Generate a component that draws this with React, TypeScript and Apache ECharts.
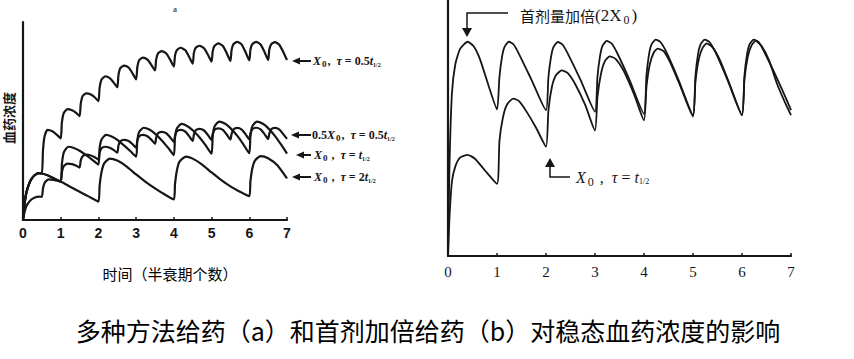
import React, { useEffect, useRef } from "react";
import * as echarts from "echarts";

// ---------- Panel (a): several dosing regimens ----------
// x = time in half-lives, y = plasma concentration (arbitrary units, 0-100)
const aX0Tau05: number[][] = [
  [0, 0], [0.03, 6], [0.07, 12], [0.12, 16], [0.2, 20], [0.3, 22.5], [0.42, 23.7], [0.5, 23.5],
  [0.53, 35], [0.57, 42], [0.65, 45.5], [0.78, 44.8], [0.9, 43], [1.0, 41.2],
  [1.03, 49], [1.08, 54], [1.18, 56], [1.3, 55.4], [1.4, 54.2], [1.5, 52.5],
  [1.53, 58.5], [1.58, 62.5], [1.68, 64], [1.8, 63.4], [1.9, 62], [2.0, 60],
  [2.03, 66.5], [2.08, 70.8], [2.18, 72.5], [2.3, 71.7], [2.4, 69.5], [2.5, 67],
  [2.53, 73], [2.58, 76.7], [2.68, 78], [2.8, 77], [2.9, 74.2], [3.0, 71],
  [3.03, 77], [3.08, 80.7], [3.18, 82], [3.3, 81], [3.4, 78.4], [3.5, 75.5],
  [3.53, 81], [3.58, 84.2], [3.68, 85.3], [3.8, 84.1], [3.9, 81], [4.0, 77.5],
  [4.03, 83], [4.08, 85.8], [4.18, 87], [4.3, 85.8], [4.4, 82.6], [4.5, 79],
  [4.53, 84.3], [4.58, 87], [4.68, 88], [4.8, 86.8], [4.9, 83.6], [5.0, 80],
  [5.03, 85.3], [5.08, 88], [5.18, 89.2], [5.3, 87.9], [5.4, 84.3], [5.5, 80.3],
  [5.53, 85.8], [5.58, 88.8], [5.68, 90], [5.8, 88.6], [5.9, 84.8], [6.0, 80.6],
  [6.03, 86], [6.08, 88.8], [6.18, 90], [6.3, 88.6], [6.4, 85], [6.5, 80.8],
  [6.53, 86], [6.58, 88.7], [6.68, 89.8], [6.8, 88.4], [6.9, 84.9], [7.0, 80.8],
];

const aHalfX0Tau05: number[][] = [
  [0, 0], [0.03, 3], [0.07, 6], [0.12, 8], [0.2, 10], [0.3, 11.2], [0.42, 11.8], [0.5, 11.7],
  [0.53, 16], [0.58, 19], [0.68, 20.5], [0.8, 20.3], [0.9, 19.9], [1.0, 19.4],
  [1.03, 24], [1.08, 27.2], [1.18, 28.5], [1.3, 28.2], [1.4, 27.5], [1.5, 26.5],
  [1.53, 30], [1.58, 32.2], [1.68, 33], [1.8, 32.6], [1.9, 31.7], [2.0, 30.5],
  [2.03, 33.8], [2.08, 36.2], [2.18, 37], [2.3, 36.5], [2.4, 35.4], [2.5, 34],
  [2.53, 37.5], [2.58, 39.8], [2.68, 40.5], [2.8, 39.9], [2.9, 38.4], [3.0, 36.5],
  [3.03, 40], [3.08, 42.3], [3.18, 43], [3.3, 42.3], [3.4, 40.6], [3.5, 38.5],
  [3.53, 41.5], [3.58, 43.8], [3.68, 44.5], [3.8, 43.8], [3.9, 41.8], [4.0, 39.5],
  [4.03, 42.5], [4.08, 44.8], [4.18, 45.5], [4.3, 44.7], [4.4, 42.5], [4.5, 40],
  [4.53, 43], [4.58, 45.3], [4.68, 46], [4.8, 45.2], [4.9, 43], [5.0, 40.5],
  [5.03, 43.3], [5.08, 45.6], [5.18, 46.3], [5.3, 45.5], [5.4, 43.2], [5.5, 40.7],
  [5.53, 43.4], [5.58, 45.7], [5.68, 46.5], [5.8, 45.7], [5.9, 43.4], [6.0, 40.8],
  [6.03, 43.5], [6.08, 45.8], [6.18, 46.6], [6.3, 45.8], [6.4, 43.5], [6.5, 40.9],
  [6.53, 43.5], [6.58, 45.8], [6.68, 46.5], [6.8, 45.7], [6.9, 43.4], [7.0, 41],
];

const aX0Tau1: number[][] = [
  [0, 0], [0.03, 6], [0.07, 12], [0.12, 16], [0.2, 20], [0.3, 22.5], [0.42, 23.7], [0.5, 23.5],
  [0.65, 22.6], [0.8, 21.2], [1.0, 19.4],
  [1.03, 28], [1.08, 34], [1.2, 37], [1.35, 36.4], [1.5, 35], [1.7, 32.4], [1.85, 30.2], [2.0, 28],
  [2.03, 36], [2.08, 40.5], [2.2, 43], [2.35, 42.2], [2.5, 40.5], [2.7, 37.3], [2.85, 34.7], [3.0, 32],
  [3.03, 40], [3.08, 44.5], [3.2, 46.6], [3.35, 45.7], [3.5, 43.6], [3.7, 39.8], [3.85, 36.4], [4.0, 32.8],
  [4.03, 41.5], [4.08, 46.2], [4.2, 48.5], [4.35, 47.5], [4.5, 45.3], [4.7, 41.3], [4.85, 37.5], [5.0, 33.5],
  [5.03, 42.5], [5.08, 47.3], [5.2, 49.7], [5.35, 48.7], [5.5, 46.4], [5.7, 42.1], [5.85, 38], [6.0, 33.7],
  [6.03, 42.5], [6.08, 47.3], [6.2, 49.7], [6.35, 48.7], [6.5, 46.4], [6.7, 42], [6.85, 37.9], [7.0, 33.5],
];

const aX0Tau2: number[][] = [
  [0, 0], [0.03, 6], [0.07, 12], [0.12, 16], [0.2, 20], [0.3, 22.5], [0.42, 23.7], [0.5, 23.5],
  [0.65, 22.6], [0.8, 21.2], [1.0, 19.4], [1.25, 16.8], [1.5, 14.3], [1.75, 11.8], [2.0, 9.3],
  [2.03, 17], [2.08, 24], [2.15, 28.5], [2.3, 31], [2.5, 30], [2.75, 27], [3.0, 23], [3.25, 19.3],
  [3.5, 16], [3.75, 13], [4.0, 10.4],
  [4.03, 18], [4.08, 25], [4.15, 29.5], [4.32, 32], [4.5, 31], [4.75, 28], [5.0, 24], [5.25, 20.3],
  [5.5, 17], [5.75, 14.3], [6.0, 12],
  [6.03, 19.5], [6.08, 26], [6.15, 30], [6.3, 32.3], [6.5, 31.2], [6.75, 27.5], [7.0, 21],
];

// ---------- Panel (b): doubled loading dose vs. regular dose ----------
const bLoading2X0: number[][] = [
  [0, 0], [0.03, 35], [0.08, 63.5], [0.15, 75], [0.25, 81], [0.4, 83.7], [0.52, 82], [0.65, 77], [0.82, 67], [1.0, 57.3],
  [1.05, 70], [1.1, 77.5], [1.15, 81.5], [1.24, 83.7], [1.34, 82.6], [1.46, 78.5], [1.7, 69], [2.0, 57],
  [2.05, 70], [2.1, 77.5], [2.15, 81.5], [2.24, 83.6], [2.34, 82.5], [2.46, 78.5], [2.7, 69], [3.0, 56.4],
  [3.05, 70], [3.1, 77.8], [3.15, 82], [3.24, 84], [3.34, 83], [3.46, 79], [3.7, 69], [4.0, 55.5],
  [4.05, 70.5], [4.1, 78.5], [4.15, 82.5], [4.24, 84.5], [4.34, 83.5], [4.46, 79.5], [4.7, 69], [5.0, 55],
  [5.05, 70.5], [5.1, 78.5], [5.15, 82.5], [5.24, 84.5], [5.34, 83.5], [5.46, 79.5], [5.7, 69], [6.0, 55],
  [6.05, 70.5], [6.1, 78.5], [6.15, 82.5], [6.24, 84.5], [6.34, 83.6], [6.46, 79.5], [6.7, 70], [6.9, 61.5], [7.0, 57],
];

const bX0Tau1: number[][] = [
  [0, 0], [0.03, 15], [0.08, 29], [0.15, 35], [0.25, 38.5], [0.4, 39.5], [0.55, 38], [0.75, 33.5], [1.0, 28.2],
  [1.05, 45], [1.12, 54], [1.2, 59], [1.33, 61.5], [1.45, 60.5], [1.6, 56.5], [1.8, 50], [2.0, 42.7],
  [2.05, 57], [2.12, 66], [2.2, 70.5], [2.32, 72.5], [2.44, 71.5], [2.6, 67], [2.8, 59], [3.0, 49],
  [3.05, 62], [3.12, 71], [3.2, 76], [3.3, 78], [3.42, 77], [3.58, 72.5], [3.8, 63], [4.0, 53],
  [4.05, 66], [4.12, 75], [4.2, 79.5], [4.28, 81], [4.4, 80], [4.55, 75], [4.75, 66], [5.0, 54.5],
  [5.05, 68], [5.12, 77], [5.2, 81.5], [5.28, 83], [5.4, 81.5], [5.55, 76.5], [5.75, 67], [6.0, 55],
  [6.05, 69], [6.12, 78], [6.2, 82.5], [6.28, 84], [6.4, 82], [6.55, 76.5], [6.72, 67], [6.9, 59], [7.0, 55],
];

const xLabelA = "时间（半衰期个数）";
const yLabelA = "血药浓度";
const caption = "多种方法给药（a）和首剂加倍给药（b）对稳态血药浓度的影响";

const INK = "#161616";
const SERIF = "Liberation Serif";

function leftArrow(tipX: number, endX: number, y: number) {
  return [
    { type: "line", shape: { x1: tipX + 5, y1: y, x2: endX, y2: y }, style: { stroke: INK, lineWidth: 2 } },
    { type: "polygon", shape: { points: [[tipX, y], [tipX + 8, y - 3.5], [tipX + 8, y + 3.5]] }, style: { fill: INK } },
  ];
}

const richA = {
  n: { fontSize: 12, fontFamily: SERIF, fontWeight: "bold", fill: INK },
  i: { fontSize: 12, fontFamily: SERIF, fontWeight: "bold", fontStyle: "italic", fill: INK },
  s: { fontSize: 9, fontFamily: SERIF, fontWeight: "bold", fill: INK, padding: [6, 1, 0, 1] },
  t: { fontSize: 6, fontFamily: SERIF, fontWeight: "bold", fill: INK, padding: [7, 0, 0, 0] },
};

const richB = {
  n: { fontSize: 16, fontFamily: SERIF, fill: INK },
  i: { fontSize: 16, fontFamily: SERIF, fontStyle: "italic", fill: INK },
  s: { fontSize: 12, fontFamily: SERIF, fill: INK, padding: [9, 2, 0, 2] },
  t: { fontSize: 8, fontFamily: SERIF, fill: INK, padding: [8, 0, 0, 0] },
  c: { fontSize: 15, fontFamily: "Noto Sans CJK SC", fill: INK },
  r: { fontSize: 17, fontFamily: SERIF, fill: INK },
};

export default function App() {
  const ref = useRef<HTMLDivElement>(null);

  useEffect(() => {
    if (!ref.current) return;
    const chart = echarts.init(ref.current, undefined, { renderer: "svg" });

    const lineSeries = (data: number[][], idx: number, width: number) => ({
      type: "line",
      xAxisIndex: idx,
      yAxisIndex: idx,
      data,
      symbol: "none",
      showSymbol: false,
      silent: true,
      smooth: 0.2,
      lineStyle: { color: INK, width },
      z: 3,
    });

    const axisX = (idx: number, label: any) => ({
      type: "value",
      gridIndex: idx,
      min: 0,
      max: 7,
      interval: 1,
      axisLine: { show: true, onZero: false, lineStyle: { color: INK, width: 2.2 } },
      axisTick: { show: true, inside: true, length: 3, lineStyle: { color: INK, width: 1.5 } },
      splitLine: { show: false },
      axisLabel: label,
    });
    const axisY = (idx: number) => ({
      type: "value",
      gridIndex: idx,
      min: 0,
      max: 100,
      axisLine: { show: true, lineStyle: { color: INK, width: 2.2 } },
      axisTick: { show: false },
      axisLabel: { show: false },
      splitLine: { show: false },
    });

    const option: any = {
      animation: false,
      backgroundColor: "#ffffff",
      grid: [
        { left: 23, top: 22, width: 264, height: 198 },
        { left: 448, top: 0, width: 343, height: 256 },
      ],
      xAxis: [
        axisX(0, { color: INK, fontFamily: "Liberation Sans", fontWeight: "bold", fontSize: 14, margin: 6 }),
        axisX(1, { color: INK, fontFamily: SERIF, fontSize: 15, margin: 8 }),
      ],
      yAxis: [axisY(0), axisY(1)],
      series: [
        lineSeries(aX0Tau05, 0, 2.2),
        lineSeries(aHalfX0Tau05, 0, 2.2),
        lineSeries(aX0Tau1, 0, 2.2),
        lineSeries(aX0Tau2, 0, 2.2),
        lineSeries(bLoading2X0, 1, 1.8),
        lineSeries(bX0Tau1, 1, 1.8),
      ],
      graphic: [
        // panel (a) tag
        { type: "text", x: 175, y: 9, style: { text: "a", fontSize: 8, fontFamily: SERIF, fontWeight: "bold", fill: "#555", align: "center", verticalAlign: "middle" } },
        // y axis name (a)
        { type: "text", x: 8, y: 118, rotation: Math.PI / 2, style: { text: yLabelA, fontSize: 13, fontWeight: "bold", fontFamily: "Noto Sans CJK SC", fill: INK, align: "center", verticalAlign: "middle" } },
        // x axis name (a)
        { type: "text", x: 170, y: 273, style: { text: xLabelA, fontSize: 15, fontFamily: "Noto Sans CJK SC", fill: "#000", align: "center", verticalAlign: "middle" } },
        // caption
        { type: "text", x: 428, y: 330, style: { text: caption, fontSize: 25, fontFamily: "Noto Sans CJK SC", fill: "#000", align: "center", verticalAlign: "middle" } },
        // panel (a) curve labels
        ...leftArrow(292, 311, 61),
        { type: "text", x: 313, y: 61, style: { text: "{i|X}{s|0}{n|,  }{i|τ}{n| = 0.5}{i|t}{t|1/2}", rich: richA, fill: INK, fontSize: 12, verticalAlign: "middle" } },
        ...leftArrow(291, 311, 135),
        { type: "text", x: 312, y: 135, style: { text: "{n|0.5}{i|X}{s|0}{n|,  }{i|τ}{n| = 0.5}{i|t}{t|1/2}", rich: richA, fill: INK, fontSize: 12, verticalAlign: "middle" } },
        ...leftArrow(296, 311, 155),
        { type: "text", x: 314, y: 155, style: { text: "{i|X}{s|0}{n| ,  }{i|τ}{n| = }{i|t}{t|1/2}", rich: richA, fill: INK, fontSize: 12, verticalAlign: "middle" } },
        ...leftArrow(292, 311, 177),
        { type: "text", x: 314, y: 177, style: { text: "{i|X}{s|0}{n| ,  }{i|τ}{n| = 2}{i|t}{t|1/2}", rich: richA, fill: INK, fontSize: 12, verticalAlign: "middle" } },
        // panel (b) annotations
        { type: "polyline", shape: { points: [[508, 13], [467, 13], [467, 29]] }, style: { stroke: INK, lineWidth: 1.5, fill: "none" } },
        { type: "polygon", shape: { points: [[462, 28], [472, 28], [467, 37]] }, style: { fill: INK } },
        { type: "text", x: 520, y: 15, style: { text: "{c|首剂量加倍}{r|(2X}{s|0}{r|)}", rich: richB, fill: INK, fontSize: 16, verticalAlign: "middle" } },
        { type: "polyline", shape: { points: [[570, 177], [550, 177], [550, 166]] }, style: { stroke: INK, lineWidth: 1.5, fill: "none" } },
        { type: "polygon", shape: { points: [[545, 167], [555, 167], [550, 158]] }, style: { fill: INK } },
        { type: "text", x: 576, y: 177, style: { text: "{i|X}{s|0}{n| ,  }{i|τ}{n| = }{i|t}{t|1/2}", rich: richB, fill: INK, fontSize: 16, verticalAlign: "middle" } },
      ],
    };

    chart.setOption(option);
    return () => chart.dispose();
  }, []);

  return (
    <div
      ref={ref}
      style={{ position: "absolute", left: 0, top: 0, width: 854, height: 359, background: "#fff" }}
    />
  );
}
